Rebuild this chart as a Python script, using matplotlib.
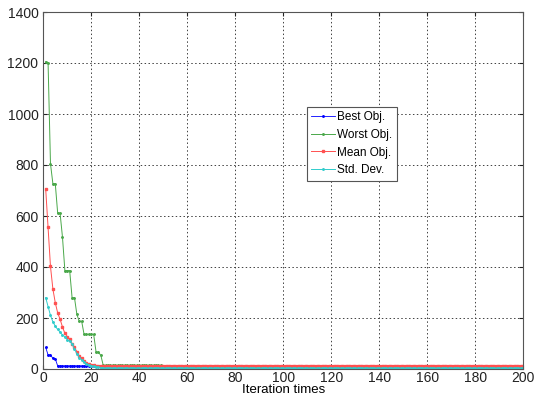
import matplotlib
matplotlib.use("Agg")
import matplotlib.pyplot as plt

plt.rcParams['font.family'] = ['Liberation Sans', 'DejaVu Sans']

# Objective values per iteration
best_obj = [85, 55, 55, 42, 40] + [12] * 20 + [11] * 175
worst_obj = [1205, 1200, 805, 727, 727, 611, 611, 517, 386, 386,
             386, 280, 280, 214, 187, 187, 136, 136, 136, 136,
             136, 66, 66, 53] + [14] * 25 + [12] * 151
mean_obj = [707, 556, 402, 314, 260, 220, 195, 165, 140, 127,
            118, 100, 85, 68, 52, 42, 30, 22, 18, 15,
            14, 13] + [12] * 178
std_dev = [280, 245, 210, 185, 168, 155, 145, 133, 127, 115,
           108, 98, 78, 60, 45, 35, 27, 21, 17, 13,
           10, 8, 6, 5, 4] + [3] * 175
iterations = list(range(1, len(best_obj) + 1))

fig = plt.figure(figsize=(5.41, 4.0), dpi=100)
ax = fig.add_axes([0.08, 0.0775, 0.887, 0.8925])

ax.plot(iterations, best_obj, color="#0000ff", lw=0.6, marker=".", ms=2.2, label="Best Obj.")
ax.plot(iterations, worst_obj, color="#4aa84a", lw=0.7, marker=".", ms=2.2, label="Worst Obj.")
ax.plot(iterations, mean_obj, color="#ff5050", lw=0.7, marker="s", ms=1.6, label="Mean Obj.")
ax.plot(iterations, std_dev, color="#30cccc", lw=0.7, marker=".", ms=2.2, label="Std. Dev.")

ax.set_xlim(0, 200)
ax.set_ylim(0, 1400)
ax.set_xticks(range(0, 201, 20))
ax.set_yticks(range(0, 1401, 200))
ax.grid(True, color="#404040", linestyle=(0, (1.5, 2.5)), lw=0.7)
ax.tick_params(labelsize=10, direction="in", length=3, colors="#222222",
               top=True, right=True)
ax.tick_params(axis="x", pad=1.5)
for s in ax.spines.values():
    s.set_color("#555555")
    s.set_linewidth(0.8)
ax.set_xlabel("Iteration times", fontsize=9.5, labelpad=-1)

leg = ax.legend(loc="upper left", bbox_to_anchor=(0.55, 0.735), fontsize=8.5,
                fancybox=False, framealpha=1, edgecolor="#555555",
                handlelength=2.0, handletextpad=0.2, borderpad=0.35,
                labelspacing=0.5, borderaxespad=0)
leg.get_frame().set_linewidth(0.8)

fig.savefig("out.png", dpi=100)
